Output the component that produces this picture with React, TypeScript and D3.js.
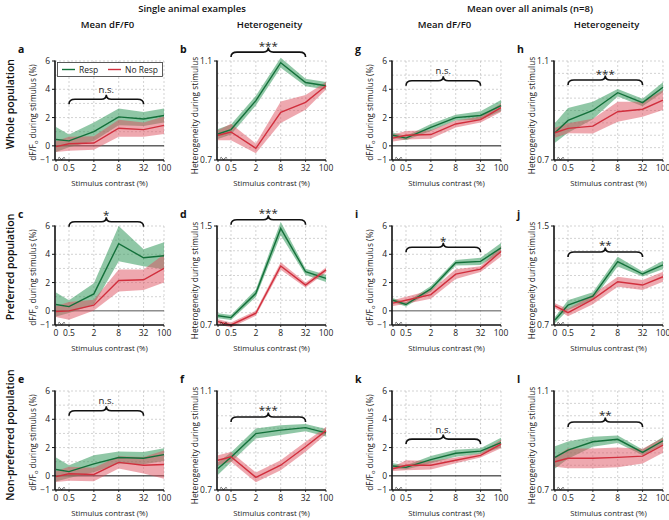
import React from 'react';
import * as d3 from 'd3';

// ---------- data ----------
const contrast = [0, 0.5, 2, 8, 32, 100];
const xTickLabels = ['0', '0.5', '2', '8', '32', '100'];
const dffTicks = [-1, 0, 2, 4, 6];
const dffDomain = [-1, 6];
const hetDomainSmall = [0.7, 1.1];
const hetDomainLarge = [0.7, 1.5];

// a: single animal, whole population, mean dF/F0
const aRespMean = [0.45, 0.35, 1.0, 2.05, 1.9, 2.15];
const aRespErr = [0.88, 0.45, 0.65, 0.6, 0.5, 0.5];
const aNoMean = [-0.05, 0.15, 0.2, 1.25, 1.15, 1.45];
const aNoErr = [0.38, 0.5, 0.48, 0.6, 0.5, 0.62];
// b: single animal, whole population, heterogeneity
const bRespMean = [0.805, 0.823, 0.94, 1.093, 1.013, 1.0];
const bRespErr = [0.02, 0.02, 0.02, 0.02, 0.015, 0.015];
const bNoMean = [0.8, 0.813, 0.747, 0.893, 0.933, 1.0];
const bNoErr = [0.02, 0.033, 0.02, 0.043, 0.03, 0.015];
// c: single animal, preferred, mean dF/F0
const cRespMean = [0.45, 0.3, 1.2, 4.75, 3.75, 3.9];
const cRespErr = [0.85, 0.45, 0.75, 1.25, 0.6, 0.95];
const cNoMean = [-0.05, 0.0, 0.4, 2.15, 2.2, 3.0];
const cNoErr = [0.38, 0.62, 0.38, 0.78, 0.72, 1.0];
// d: single animal, preferred, heterogeneity
const dRespMean = [0.775, 0.76, 0.956, 1.48, 1.13, 1.077];
const dRespErr = [0.02, 0.02, 0.03, 0.055, 0.025, 0.03];
const dNoMean = [0.727, 0.7, 0.795, 1.177, 1.023, 1.145];
const dNoErr = [0.02, 0.02, 0.02, 0.03, 0.02, 0.02];
// e: single animal, non-preferred, mean dF/F0
const eRespMean = [0.45, 0.3, 0.85, 1.3, 1.25, 1.5];
const eRespErr = [0.85, 0.45, 0.6, 0.43, 0.43, 0.45];
const eNoMean = [-0.05, 0.15, 0.1, 0.95, 0.75, 0.8];
const eNoErr = [0.38, 0.5, 0.48, 0.43, 0.58, 1.0];
// f: single animal, non-preferred, heterogeneity
const fRespMean = [0.787, 0.832, 0.928, 0.942, 0.952, 0.931];
const fRespErr = [0.025, 0.02, 0.02, 0.02, 0.015, 0.015];
const fNoMean = [0.82, 0.834, 0.751, 0.8, 0.875, 0.94];
const fNoErr = [0.02, 0.02, 0.02, 0.02, 0.02, 0.015];
// g: all animals, whole population, mean dF/F0
const gRespMean = [0.75, 0.55, 1.3, 2.0, 2.15, 2.85];
const gRespErr = [0.2, 0.15, 0.25, 0.2, 0.3, 0.4];
const gNoMean = [0.55, 0.75, 0.8, 1.55, 1.85, 2.7];
const gNoErr = [0.25, 0.3, 0.3, 0.25, 0.2, 0.3];
// h: all animals, whole population, heterogeneity
const hRespMean = [0.81, 0.86, 0.9, 0.972, 0.932, 0.994];
const hRespErr = [0.04, 0.05, 0.035, 0.015, 0.015, 0.02];
const hNoMean = [0.81, 0.828, 0.837, 0.895, 0.905, 0.942];
const hNoErr = [0.02, 0.02, 0.03, 0.04, 0.03, 0.04];
// i: all animals, preferred, mean dF/F0
const iRespMean = [0.75, 0.45, 1.55, 3.4, 3.5, 4.45];
const iRespErr = [0.15, 0.15, 0.2, 0.2, 0.25, 0.35];
const iNoMean = [0.55, 0.75, 1.15, 2.6, 2.95, 4.2];
const iNoErr = [0.2, 0.25, 0.3, 0.35, 0.2, 0.35];
// j: all animals, preferred, heterogeneity
const jRespMean = [0.74, 0.861, 0.934, 1.212, 1.112, 1.185];
const jRespErr = [0.025, 0.04, 0.03, 0.04, 0.02, 0.035];
const jNoMean = [0.855, 0.8, 0.907, 1.05, 1.023, 1.09];
const jNoErr = [0.02, 0.03, 0.04, 0.04, 0.04, 0.04];
// k: all animals, non-preferred, mean dF/F0
const kRespMean = [0.7, 0.6, 1.15, 1.6, 1.75, 2.35];
const kRespErr = [0.2, 0.15, 0.25, 0.25, 0.2, 0.35];
const kNoMean = [0.5, 0.75, 0.75, 1.1, 1.45, 2.25];
const kNoErr = [0.15, 0.35, 0.3, 0.2, 0.15, 0.3];
// l: all animals, non-preferred, heterogeneity
const lRespMean = [0.832, 0.861, 0.895, 0.905, 0.852, 0.899];
const lRespErr = [0.045, 0.035, 0.02, 0.015, 0.012, 0.015];
const lNoMean = [0.814, 0.828, 0.828, 0.832, 0.837, 0.881];
const lNoErr = [0.02, 0.04, 0.04, 0.04, 0.03, 0.03];

const sigLabels = ['n.s.', '***', '*', '***', 'n.s.', '***', 'n.s.', '***', '*', '**', 'n.s.', '**'];
const braceLevels = [3.3, 1.136, 6.3, 1.55, 4.6, 0.995, 4.6, 1.023, 4.5, 1.29, 2.6, 0.975];
const legendLabels = ['Resp', 'No Resp'];
const colHeaders = ['Mean dF/F0', 'Heterogeneity', 'Mean dF/F0', 'Heterogeneity'];
const groupHeaders = ['Single animal examples', 'Mean over all animals (n=8)'];
const rowLabels = ['Whole population', 'Preferred population', 'Non-preferred population'];

// ---------- layout / style ----------
const GREEN = '#13703a';
const GREEN_FILL = '#35995c';
const RED = '#d12f3d';
const RED_FILL = '#dd5260';
const FONT = '"Open Sans", "Noto Sans", sans-serif';
const COL_X = [55, 217, 392, 554];
const ROW_Y = [61, 226, 391];
const PW = 109;
const PH = 99;

type PanelCfg = {
  letter: string; col: number; row: number; kind: 'dff' | 'het';
  domain: number[]; respMean: number[]; respErr: number[]; noMean: number[]; noErr: number[];
  sig: string; brace: number; legend?: boolean; zeroColor?: string;
};

const panels: PanelCfg[] = [
  { letter: 'a', col: 0, row: 0, kind: 'dff', domain: dffDomain, respMean: aRespMean, respErr: aRespErr, noMean: aNoMean, noErr: aNoErr, sig: sigLabels[0], brace: braceLevels[0], legend: true },
  { letter: 'b', col: 1, row: 0, kind: 'het', domain: hetDomainSmall, respMean: bRespMean, respErr: bRespErr, noMean: bNoMean, noErr: bNoErr, sig: sigLabels[1], brace: braceLevels[1] },
  { letter: 'c', col: 0, row: 1, kind: 'dff', domain: dffDomain, respMean: cRespMean, respErr: cRespErr, noMean: cNoMean, noErr: cNoErr, sig: sigLabels[2], brace: braceLevels[2], zeroColor: '#555' },
  { letter: 'd', col: 1, row: 1, kind: 'het', domain: hetDomainLarge, respMean: dRespMean, respErr: dRespErr, noMean: dNoMean, noErr: dNoErr, sig: sigLabels[3], brace: braceLevels[3] },
  { letter: 'e', col: 0, row: 2, kind: 'dff', domain: dffDomain, respMean: eRespMean, respErr: eRespErr, noMean: eNoMean, noErr: eNoErr, sig: sigLabels[4], brace: braceLevels[4] },
  { letter: 'f', col: 1, row: 2, kind: 'het', domain: hetDomainSmall, respMean: fRespMean, respErr: fRespErr, noMean: fNoMean, noErr: fNoErr, sig: sigLabels[5], brace: braceLevels[5] },
  { letter: 'g', col: 2, row: 0, kind: 'dff', domain: dffDomain, respMean: gRespMean, respErr: gRespErr, noMean: gNoMean, noErr: gNoErr, sig: sigLabels[6], brace: braceLevels[6] },
  { letter: 'h', col: 3, row: 0, kind: 'het', domain: hetDomainSmall, respMean: hRespMean, respErr: hRespErr, noMean: hNoMean, noErr: hNoErr, sig: sigLabels[7], brace: braceLevels[7] },
  { letter: 'i', col: 2, row: 1, kind: 'dff', domain: dffDomain, respMean: iRespMean, respErr: iRespErr, noMean: iNoMean, noErr: iNoErr, sig: sigLabels[8], brace: braceLevels[8], zeroColor: '#555' },
  { letter: 'j', col: 3, row: 1, kind: 'het', domain: hetDomainLarge, respMean: jRespMean, respErr: jRespErr, noMean: jNoMean, noErr: jNoErr, sig: sigLabels[9], brace: braceLevels[9] },
  { letter: 'k', col: 2, row: 2, kind: 'dff', domain: dffDomain, respMean: kRespMean, respErr: kRespErr, noMean: kNoMean, noErr: kNoErr, sig: sigLabels[10], brace: braceLevels[10] },
  { letter: 'l', col: 3, row: 2, kind: 'het', domain: hetDomainSmall, respMean: lRespMean, respErr: lRespErr, noMean: lNoMean, noErr: lNoErr, sig: sigLabels[11], brace: braceLevels[11] },
];

function Panel({ p }: { p: PanelCfg }) {
  const x0 = COL_X[p.col];
  const top = ROW_Y[p.row];
  const bottom = top + PH;
  const xLog = d3.scaleLog().domain([0.5, 100]).range([x0 + 14, x0 + PW]);
  const xs = (v: number) => (v === 0 ? x0 + 1 : xLog(v));
  const y = d3.scaleLinear().domain(p.domain).range([bottom, top]);

  const idx = d3.range(contrast.length);
  const band = (m: number[], e: number[]) =>
    d3.area<number>().x((i) => xs(contrast[i])).y0((i) => y(m[i] - e[i])).y1((i) => y(m[i] + e[i]))(idx) || '';
  const line = (m: number[]) => d3.line<number>().x((i) => xs(contrast[i])).y((i) => y(m[i]))(idx) || '';

  const [lo, hi] = p.domain;
  const step = p.kind === 'dff' ? 1 : (hi - lo > 0.5 ? 0.1 : 0.05);
  const gridY = d3.range(lo + step, hi + step / 2, step).filter((v) => !(p.kind === 'dff' && Math.abs(v) < 1e-9));
  const gridX = contrast.filter((v) => v > 0);
  const yTicks = p.kind === 'dff' ? dffTicks : p.domain;
  const fmt = (v: number) => (p.kind === 'dff' ? (v < 0 ? '\u2212' + Math.abs(v) : String(v)) : d3.format('.1f')(v));

  // brace
  const bx1 = xs(0.5), bx2 = xs(32), bm = (bx1 + bx2) / 2, by = y(p.brace);
  const braceD = `M${bx1},${by + 5} Q${bx1},${by} ${bx1 + 6},${by} L${bm - 5},${by} Q${bm},${by} ${bm},${by - 4.5} Q${bm},${by} ${bm + 5},${by} L${bx2 - 6},${by} Q${bx2},${by} ${bx2},${by + 5}`;
  const isStar = p.sig.startsWith('*');

  const cx = x0 + PW / 2;
  const ylabel = p.kind === 'dff' ? null : 'Heterogeneity during stimulus';

  return (
    <g>
      {/* grid */}
      {gridY.map((v) => (
        <line key={'gy' + v} x1={x0} x2={x0 + PW} y1={y(v)} y2={y(v)} stroke="#b5b5b5" strokeWidth={0.6} strokeDasharray="2,2" />
      ))}
      {gridX.map((v) => (
        <line key={'gx' + v} x1={xs(v)} x2={xs(v)} y1={top} y2={bottom} stroke="#b5b5b5" strokeWidth={0.6} strokeDasharray="2,2" />
      ))}
      {p.kind === 'dff' && (
        <line x1={x0} x2={x0 + PW} y1={y(0)} y2={y(0)} stroke={p.zeroColor || '#111'} strokeWidth={1} />
      )}
      {/* bands and lines */}
      <path d={band(p.respMean, p.respErr)} fill={GREEN_FILL} fillOpacity={0.55} />
      <path d={band(p.noMean, p.noErr)} fill={RED_FILL} fillOpacity={0.5} />
      <path d={line(p.respMean)} fill="none" stroke={GREEN} strokeWidth={1.4} />
      <path d={line(p.noMean)} fill="none" stroke={RED} strokeWidth={1.4} />
      {/* axes */}
      <line x1={x0} x2={x0} y1={top - 0.5} y2={bottom} stroke="#111" strokeWidth={1.6} />
      <line x1={x0} x2={x0 + PW} y1={bottom} y2={bottom} stroke="#111" strokeWidth={1.3} />
      <path d={`M${x0 + 3},${bottom - 1.5} q1.2,-2.2 2.4,0 t2.4,0 t2.4,0`} fill="none" stroke="#111" strokeWidth={0.7} />
      {yTicks.map((v) => (
        <g key={'yt' + v}>
          <line x1={x0 - 3} x2={x0} y1={y(v)} y2={y(v)} stroke="#111" strokeWidth={1} />
          <text x={x0 - 5} y={y(v) + 3} fontSize={8.5} textAnchor="end" fontFamily={FONT} fill="#222">{fmt(v)}</text>
        </g>
      ))}
      {contrast.map((v, i) => (
        <g key={'xt' + v}>
          <line x1={xs(v)} x2={xs(v)} y1={bottom} y2={bottom + 2} stroke="#111" strokeWidth={0.8} />
          <text x={xs(v)} y={bottom + 11} fontSize={8.5} textAnchor="middle" fontFamily={FONT} fill="#222">{xTickLabels[i]}</text>
        </g>
      ))}
      <text x={cx} y={bottom + 26} fontSize={7.8} textAnchor="middle" fontFamily={FONT} fill="#222">Stimulus contrast (%)</text>
      {/* y label */}
      <text transform={`translate(${x0 - 19},${top + PH / 2 + (ylabel ? 5 : 2)}) rotate(-90)`} fontSize={8.3} textAnchor="middle" fontFamily={FONT} fill="#222">
        {ylabel ? ylabel : (
          <>
            <tspan>dF/F</tspan>
            <tspan fontSize={5.8} dy={2}>o</tspan>
            <tspan dy={-2}> during stimulus (%)</tspan>
          </>
        )}
      </text>
      {/* brace + significance */}
      <path d={braceD} fill="none" stroke="#111" strokeWidth={1.6} />
      <text x={bm} y={isStar ? by - 2.5 : by - 6.5} fontSize={isStar ? 11.5 : 9.5} textAnchor="middle" fontFamily={FONT} fill="#222">{p.sig}</text>
      {/* panel letter */}
      <text x={x0 - 37} y={top - 8} fontSize={10.5} fontWeight={700} fontFamily={FONT} fill="#111">{p.letter}</text>
      {p.legend && (
        <g>
          <rect x={x0 + 2.5} y={top + 1.5} width={PW - 4} height={14} fill="#fff" stroke="#333" strokeWidth={0.8} />
          <line x1={x0 + 7} x2={x0 + 20} y1={top + 8.5} y2={top + 8.5} stroke={GREEN} strokeWidth={1.4} />
          <text x={x0 + 24} y={top + 11.5} fontSize={8.5} fontFamily={FONT} fill="#222">{legendLabels[0]}</text>
          <line x1={x0 + 53} x2={x0 + 66} y1={top + 8.5} y2={top + 8.5} stroke={RED} strokeWidth={1.4} />
          <text x={x0 + 70} y={top + 11.5} fontSize={8.5} fontFamily={FONT} fill="#222">{legendLabels[1]}</text>
        </g>
      )}
    </g>
  );
}

export default function App() {
  return (
    <svg width={669} height={520} viewBox="0 0 669 520" style={{ display: 'block', position: 'absolute', left: 0, top: 0, background: '#fff' }}>
      <rect x={0} y={0} width={669} height={520} fill="#fff" />
      <text x={192} y={12} fontSize={9.5} fontWeight={600} textAnchor="middle" fontFamily={FONT} fill="#111">{groupHeaders[0]}</text>
      <text x={530} y={12} fontSize={9.5} fontWeight={600} textAnchor="middle" fontFamily={FONT} fill="#111">{groupHeaders[1]}</text>
      {colHeaders.map((h, i) => (
        <text key={h + i} x={COL_X[i] + PW / 2 - 2} y={28} fontSize={9.5} fontWeight={600} textAnchor="middle" fontFamily={FONT} fill="#111">{h}</text>
      ))}
      {rowLabels.map((r, i) => (
        <text key={r} transform={`translate(14,${[104, 267, 435][i]}) rotate(-90)`} fontSize={10.5} fontWeight={600} textAnchor="middle" fontFamily={FONT} fill="#111">{r}</text>
      ))}
      {panels.map((p) => <Panel key={p.letter} p={p} />)}
    </svg>
  );
}
